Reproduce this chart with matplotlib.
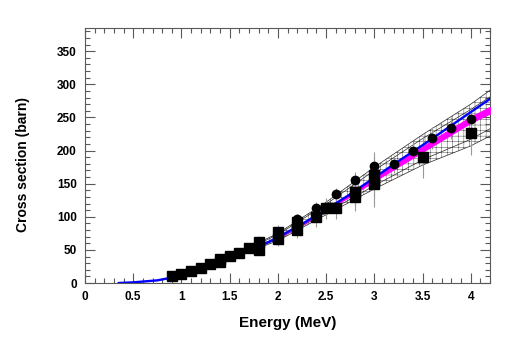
import matplotlib.pyplot as plt
import matplotlib as mpl
from matplotlib.ticker import MultipleLocator

# ROOT-like look: bold Helvetica-ish text, ticks inside on all sides
mpl.rcParams['font.family'] = 'Liberation Sans'
mpl.rcParams['font.weight'] = 'bold'
mpl.rcParams['hatch.linewidth'] = 0.3
mpl.rcParams['hatch.color'] = '0.2'

# measured points (squares), energy in MeV, cross section in barn
sq_E = [0.9, 1.0, 1.1, 1.2, 1.3, 1.4, 1.4, 1.5, 1.6, 1.7, 1.8, 1.8,
        2.0, 2.0, 2.2, 2.2, 2.4, 2.5, 2.6, 2.8, 2.8, 3.0, 3.0, 3.5, 4.0]
sq_sig = [11, 13.5, 18.5, 22, 28, 31, 37, 40.5, 44.6, 53, 50, 62,
          66, 77, 80, 92, 99, 113, 114, 130, 138, 150, 163, 190, 227]
sq_err = [3, 3, 4, 4, 5, 6, 6, 6, 7, 8, 8, 9,
          10, 10, 12, 12, 14, 16, 18, 22, 22, 35, 35, 31, 34]

# measured points (circles)
ci_E = [2.2, 2.4, 2.6, 2.8, 3.0, 3.2, 3.4, 3.6, 3.8, 4.0]
ci_sig = [96, 114, 134, 155, 177, 180, 200, 219, 234, 248]
ci_err = [8, 9, 10, 12, 14, 14, 15, 16, 17, 18]

# blue calculation
blue_E = [0.35, 0.5, 0.75, 1.0, 1.25, 1.5, 1.75, 2.0, 2.25, 2.5, 2.75,
          3.0, 3.25, 3.5, 3.75, 4.0, 4.2]
blue_sig = [0, 1, 4, 11, 22, 36, 51, 69, 89, 111, 134,
            159, 184, 208, 233, 258, 278]

# magenta calculation band (lower / upper edge)
mag_E = [2.0, 2.25, 2.5, 2.75, 3.0, 3.25, 3.5, 3.75, 4.0, 4.2]
mag_lo = [68, 88, 109, 131, 154, 176, 198, 220, 242, 256]
mag_hi = [69, 89, 111, 134, 159, 183, 206, 229, 251, 266]

# uncertainty band (outer and inner edges)
band_E = [1.5, 2.0, 2.5, 3.0, 3.5, 4.0, 4.2]
band_hi = [40, 75, 122, 175, 224, 270, 291]
band_hi2 = [39, 73, 119, 170, 218, 262, 281]
band_lo2 = [37, 66, 106, 147, 186, 217, 233]
band_lo = [36, 64, 103, 142, 178, 207, 222]

fig = plt.figure(figsize=(5.1, 3.4), dpi=100)
ax = fig.add_axes([0.1667, 0.1676, 0.7941, 0.75])

# hatched band
ax.fill_between(band_E, band_lo, band_hi, facecolor='none', edgecolor='0.2',
                hatch='+++', linewidth=0, zorder=1)
for ys in (band_hi, band_hi2, band_lo2, band_lo):
    ax.plot(band_E, ys, color='0.15', lw=0.5, zorder=2)

# error bars
ax.errorbar(sq_E, sq_sig, yerr=sq_err, fmt='none', ecolor='0.6', elinewidth=0.8,
            capsize=0, zorder=3)
ax.errorbar(ci_E, ci_sig, yerr=ci_err, fmt='none', ecolor='0.6', elinewidth=0.8,
            capsize=0, zorder=3)

# curves
ax.fill_between(mag_E, mag_lo, mag_hi, color='#ff00ff', lw=0.8, zorder=4)
ax.plot(blue_E, blue_sig, color='#0000ff', lw=1.7, zorder=5)

# markers
ax.plot(sq_E, sq_sig, 's', color='black', ms=7.2, zorder=6)
ax.plot(ci_E, ci_sig, 'o', color='black', ms=6, zorder=6)

ax.set_xlim(0, 4.2)
ax.set_ylim(0, 385)
ax.xaxis.set_major_locator(MultipleLocator(0.5))
ax.xaxis.set_minor_locator(MultipleLocator(0.1))
ax.yaxis.set_major_locator(MultipleLocator(50))
ax.yaxis.set_minor_locator(MultipleLocator(10))
ax.xaxis.set_major_formatter(mpl.ticker.FuncFormatter(lambda v, p: f'{v:g}'))

ax.tick_params(which='both', direction='in', top=True, right=True,
               color='0.35', labelsize=8.5, width=0.8)
ax.tick_params(which='major', length=7)
ax.tick_params(which='minor', length=3.5)
ax.tick_params(axis='x', pad=6)
ax.tick_params(axis='y', pad=6)
for s in ax.spines.values():
    s.set_color('0.35')
    s.set_linewidth(0.8)

ax.set_xlabel('Energy (MeV)', fontsize=11, fontweight='bold')
ax.set_ylabel('Cross section (barn)', fontsize=10, fontweight='bold')
ax.xaxis.set_label_coords(0.5, -0.129)
ax.yaxis.set_label_coords(-0.135, 0.463)

plt.savefig('out.png', dpi=100)
